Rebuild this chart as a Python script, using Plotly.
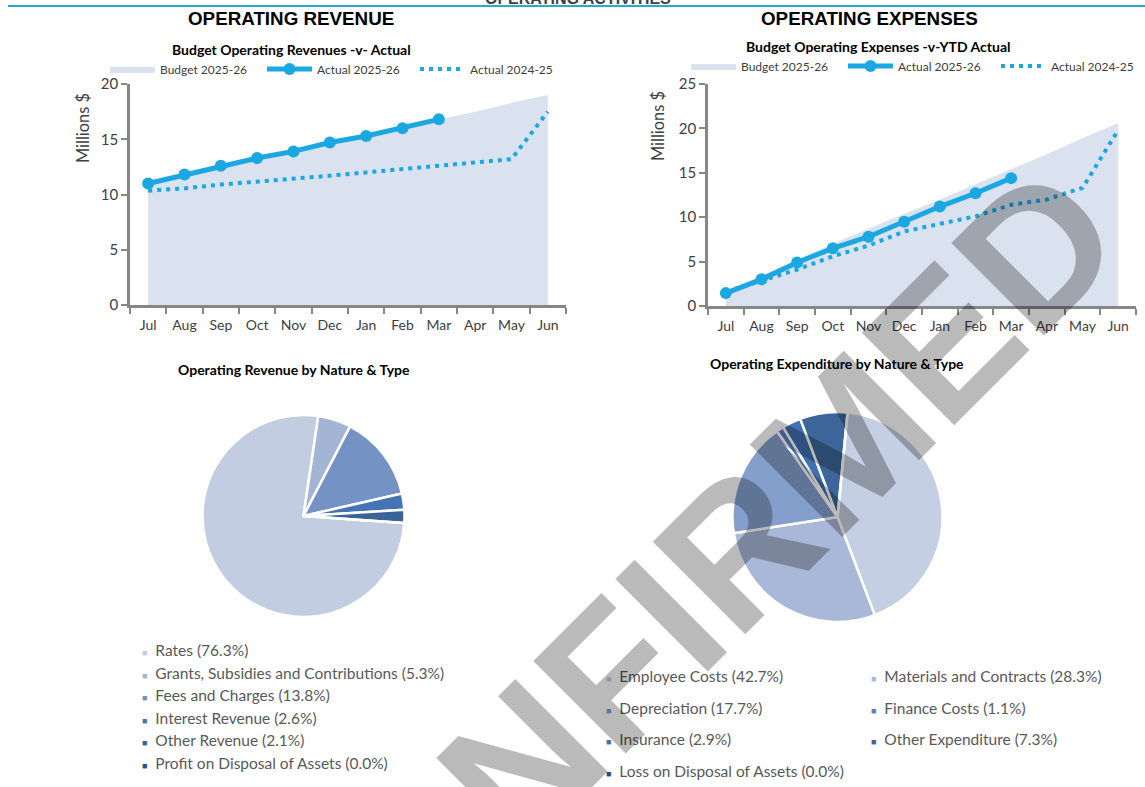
import plotly.graph_objects as go

# ---------------- data ----------------
months = ["Jul", "Aug", "Sep", "Oct", "Nov", "Dec", "Jan", "Feb", "Mar", "Apr", "May", "Jun"]

rev_budget_2526 = [11.0, 11.7, 12.5, 13.2, 13.9, 14.6, 15.3, 16.1, 16.8, 17.5, 18.3, 19.0]
rev_actual_2526 = [11.0, 11.8, 12.6, 13.3, 13.9, 14.7, 15.3, 16.0, 16.8]
rev_actual_2425 = [10.35, 10.55, 10.9, 11.15, 11.4, 11.7, 12.0, 12.3, 12.6, 12.9, 13.2, 17.5]

exp_budget_2526 = [1.6, 3.4, 5.2, 7.0, 8.7, 10.4, 12.0, 13.7, 15.4, 17.1, 18.9, 20.6]
exp_actual_2526 = [1.45, 3.0, 4.9, 6.5, 7.8, 9.5, 11.2, 12.7, 14.4]
exp_actual_2425 = [1.6, 2.9, 4.1, 5.6, 6.8, 8.4, 9.3, 10.1, 11.4, 12.0, 13.3, 19.8]

rev_labels = ["Rates", "Grants, Subsidies and Contributions", "Fees and Charges",
              "Interest Revenue", "Other Revenue", "Profit on Disposal of Assets"]
rev_pct = [76.3, 5.3, 13.8, 2.6, 2.1, 0.0]

exp_labels = ["Employee Costs", "Materials and Contracts", "Depreciation", "Finance Costs",
              "Insurance", "Other Expenditure", "Loss on Disposal of Assets"]
exp_pct = [42.7, 28.3, 17.7, 1.1, 2.9, 7.3, 0.0]

series_names = ["Budget 2025-26", "Actual 2025-26", "Actual 2024-25"]

# ---------------- styles ----------------
W, H = 1145, 787
CYAN = "#1ba8e2"
FILL = "#dae2ef"
AXIS = "#868686"
TXT = "#404040"
LEG = "#595959"
BODY = "Lato, 'Open Sans', sans-serif"
ARIAL = "'Liberation Sans', Arial, sans-serif"
rev_colors = ["#c3cde2", "#a3b4d5", "#7592c5", "#4673b4", "#3a6398", "#2b4f80"]
exp_colors = ["#c5cfe3", "#a9b8d8", "#849fcc", "#5a80bd", "#4170b0", "#3c6699", "#2b4e7f"]


def px(x):
    return x / W


def py(y):
    return 1 - y / H


fig = go.Figure()


def add_line_chart(xa, ya, legend, budget, actual, prior, widths):
    fig.add_trace(go.Scatter(
        x=months, y=budget, name=series_names[0], mode="lines",
        line=dict(width=0, color=FILL), fill="tozeroy", fillcolor=FILL,
        xaxis=xa, yaxis=ya, legend=legend, legendrank=1, legendwidth=widths[0]))
    fig.add_trace(go.Scatter(
        x=months, y=prior, name=series_names[2], mode="lines",
        line=dict(width=4, color=CYAN, dash="4px,5px"),
        xaxis=xa, yaxis=ya, legend=legend, legendrank=3, legendwidth=widths[2]))
    fig.add_trace(go.Scatter(
        x=months[:len(actual)], y=actual, name=series_names[1], mode="lines+markers",
        line=dict(width=5, color=CYAN), marker=dict(size=12, color=CYAN),
        xaxis=xa, yaxis=ya, legend=legend, legendrank=2, legendwidth=widths[1]))


add_line_chart("x", "y", "legend", rev_budget_2526, rev_actual_2526, rev_actual_2425, [97, 93, 90])
add_line_chart("x2", "y2", "legend2", exp_budget_2526, exp_actual_2526, exp_actual_2425, [97, 93, 90])

fig.add_trace(go.Pie(
    labels=rev_labels, values=rev_pct, sort=False, direction="clockwise", rotation=94,
    marker=dict(colors=rev_colors, line=dict(color="white", width=2.5)),
    textinfo="none", hoverinfo="label+percent", showlegend=False,
    domain=dict(x=[px(202.5), px(404.5)], y=[py(617), py(415)])))
fig.add_trace(go.Pie(
    labels=exp_labels, values=exp_pct, sort=False, direction="clockwise", rotation=5.5,
    marker=dict(colors=exp_colors, line=dict(color="white", width=2.5)),
    textinfo="none", hoverinfo="label+percent", showlegend=False,
    domain=dict(x=[px(732.5), px(942.5)], y=[py(622), py(412)])))

xcommon = dict(type="category", range=[-0.5, 11.5], tickson="boundaries", ticks="outside",
               ticklen=6, tickwidth=1.5, tickcolor=AXIS, showline=True, linecolor=AXIS,
               linewidth=2.5, showgrid=False, zeroline=False, tickangle=0, automargin=False,
               ticklabelstandoff=5,
               tickfont=dict(family=BODY, size=14, color=TXT), fixedrange=True)
ycommon = dict(ticks="outside", ticklen=6, tickwidth=1.5, tickcolor=AXIS, showline=True,
               linecolor=AXIS, linewidth=2.5, showgrid=False, zeroline=False, dtick=5,
               automargin=False, tickfont=dict(family=BODY, size=15, color=TXT),
               fixedrange=True)

legcommon = dict(orientation="h", xanchor="left", yanchor="middle", itemwidth=45,
                 font=dict(family=BODY, size=12, color=TXT), bgcolor="rgba(0,0,0,0)",
                 traceorder="normal", itemclick=False, itemdoubleclick=False)

fig.update_layout(
    width=W, height=H, margin=dict(l=0, r=0, t=0, b=0, autoexpand=False),
    paper_bgcolor="white", plot_bgcolor="white",
    xaxis=dict(domain=[px(130), px(566)], anchor="y", **xcommon),
    yaxis=dict(domain=[py(305), py(84)], anchor="x", range=[0, 20], **ycommon),
    xaxis2=dict(domain=[px(708), px(1136)], anchor="y2", **xcommon),
    yaxis2=dict(domain=[py(306), py(84)], anchor="x2", range=[0, 25], **ycommon),
    legend=dict(x=px(105), y=py(69), **legcommon),
    legend2=dict(x=px(686), y=py(66), **legcommon),
    hovermode="closest",
)

annotations = []


def note(text, x, y, size, family=BODY, color="black", bold=False, **kw):
    kw.setdefault("xanchor", "center")
    kw.setdefault("yanchor", "middle")
    annotations.append(dict(
        text=f"<b>{text}</b>" if bold else text, x=px(x), y=py(y), xref="paper", yref="paper",
        showarrow=False, font=dict(family=family, size=size, color=color), **kw))


# section headers
note("OPERATING ACTIVITIES", 578, 9, 16, family=ARIAL, color="#404040", bold=True,
     yanchor="bottom")
note("OPERATING REVENUE", 290.5, 19, 18.8, family=ARIAL, bold=True)
note("OPERATING EXPENSES", 869.5, 19, 18.8, family=ARIAL, bold=True)
note("Budget Operating Revenues -v- Actual", 291.5, 49, 14, bold=True)
note("Budget Operating Expenses -v-YTD Actual", 879, 46, 14, bold=True)
note("Millions $", 82, 128, 16.4, color=TXT, textangle=-90)
note("Millions $", 658, 126, 16.4, color=TXT, textangle=-90)
note("Operating Revenue by Nature & Type", 294, 369, 14, bold=True)
note("Operating Expenditure by Nature & Type", 836.5, 363, 14, bold=True)

# pie legends
for i, (lab, pct) in enumerate(zip(rev_labels, rev_pct)):
    note(f"<span style='color:{rev_colors[i]};font-size:9px'>■</span>  {lab} ({pct:.1f}%)",
         140, 650 + i * 22.6, 15.5, color=LEG, xanchor="left")
for i, (lab, pct) in enumerate(zip(exp_labels, exp_pct)):
    col, row = i % 2, i // 2
    note(f"<span style='color:{exp_colors[i]};font-size:9px'>■</span>  {lab} ({pct:.1f}%)",
         603.5 + col * 265.5, 676 + row * 31.7, 15.5, color=LEG, xanchor="left")

# watermark
note("UNCONFIRMED", 581, 705, 190, family=ARIAL, color="rgba(0,0,0,0.27)", bold=True,
     textangle=-45)

fig.update_layout(annotations=annotations)

fig.add_shape(type="line", xref="paper", yref="paper", x0=px(8), x1=1, y0=py(6), y1=py(6),
              line=dict(color="#2ea6d5", width=2))

fig.write_html("out.html", config={"displayModeBar": False},
               post_script="document.body.style.margin='0';document.body.style.padding='0';")
